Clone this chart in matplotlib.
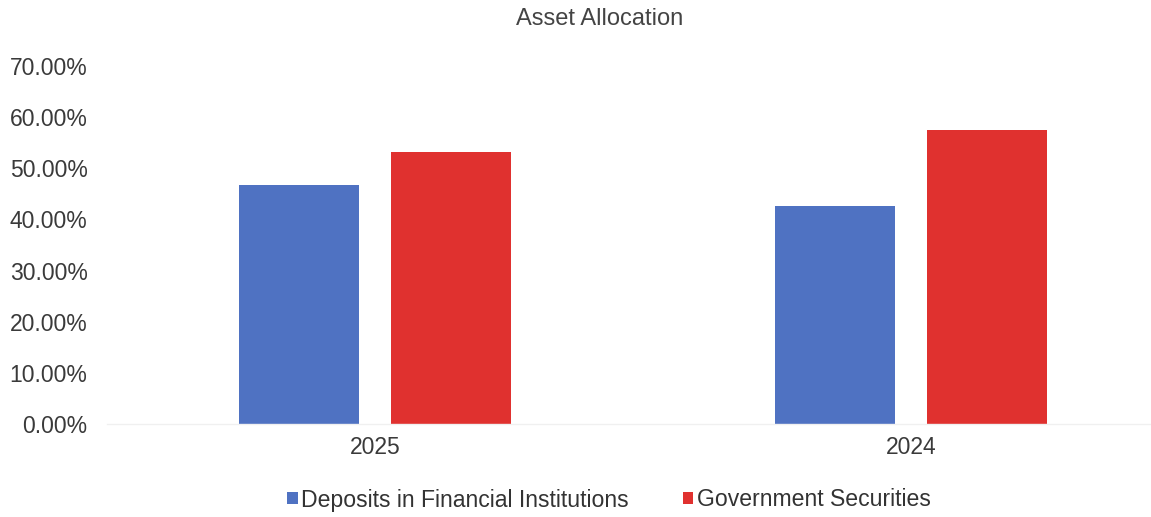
import matplotlib
matplotlib.use("Agg")
import matplotlib.pyplot as plt
import numpy as np
from matplotlib.ticker import FuncFormatter

plt.rcParams['font.family'] = ['Liberation Sans', 'DejaVu Sans']

categories = ["2025", "2024"]
series_names = ["Deposits in Financial Institutions", "Government Securities"]
deposits = [46.8, 42.6]
government = [53.2, 57.4]
colors = ["#4f72c2", "#e0312f"]
yticks = [0, 10, 20, 30, 40, 50, 60, 70]

W, H = 1151, 517
fig = plt.figure(figsize=(W / 100, H / 100), dpi=100)
ax = fig.add_axes([107 / W, 93 / H, (W - 107) / W, (424 - 66) / H])

x = np.arange(len(categories))
bw = 0.224
off = 0.141
ax.bar(x - off, deposits, bw, color=colors[0], label=series_names[0])
ax.bar(x + off, government, bw, color=colors[1], label=series_names[1])

ax.set_xlim(-0.5, (W - 375) / 536)
ax.set_ylim(0, 70)
ax.set_yticks(yticks)
ax.yaxis.set_major_formatter(FuncFormatter(lambda v, p: f"{v:.2f}%"))
ax.set_xticks(x)
ax.set_xticklabels(categories)
ax.tick_params(axis='both', length=0, labelsize=16.5, colors="#3a3a3a")
ax.tick_params(axis='y', pad=14)
ax.tick_params(axis='x', pad=9)
for s in ["top", "right", "left"]:
    ax.spines[s].set_visible(False)
ax.spines["bottom"].set_color("#f0f0f0")
ax.spines["bottom"].set_linewidth(1)

fig.text(600 / W, 1 - 19 / H, "Asset Allocation", ha="center", va="center",
         fontsize=17, color="#444444")

leg = fig.legend(loc="center", bbox_to_anchor=(609 / W, 1 - 500 / H), ncol=2,
                 frameon=False, fontsize=16.6, handlelength=0.45, handleheight=0.45,
                 handletextpad=0.15, columnspacing=2.35, labelcolor="#333333")

fig.savefig("out.png", dpi=100, facecolor="white")
